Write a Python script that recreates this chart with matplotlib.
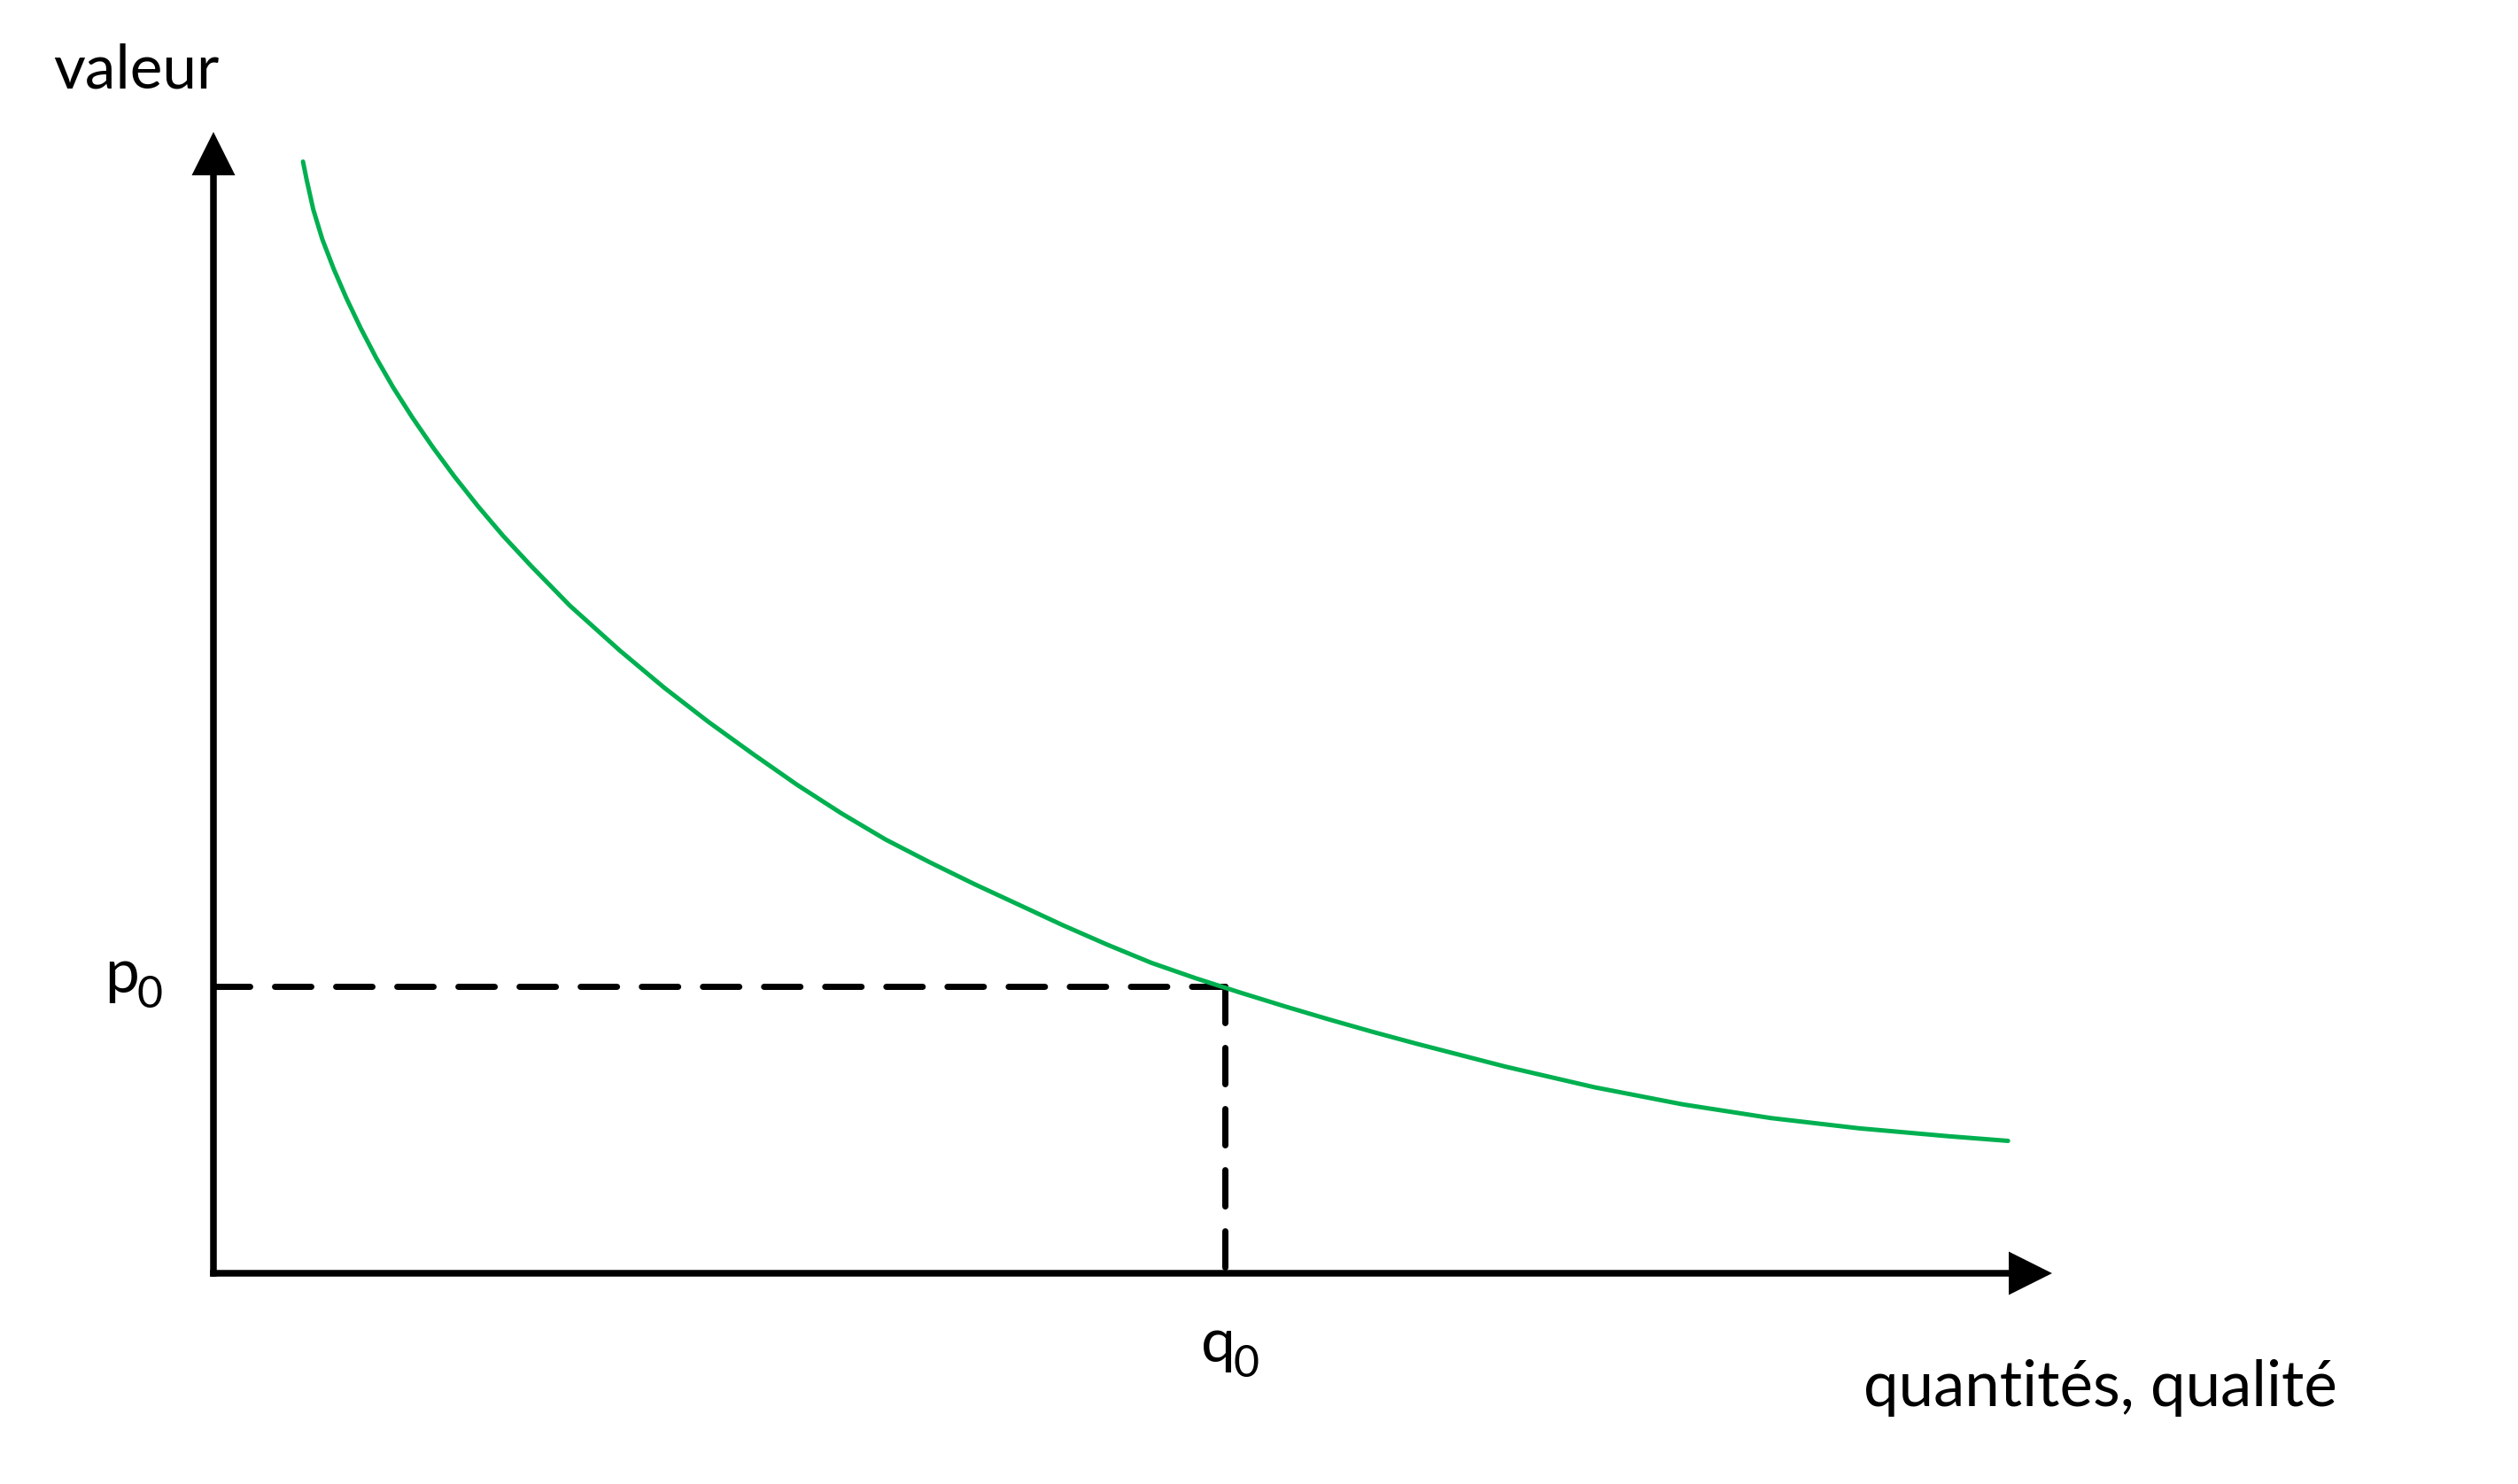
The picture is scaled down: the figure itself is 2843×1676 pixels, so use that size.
import matplotlib
matplotlib.use("Agg")
import matplotlib.pyplot as plt

# ---------------- data ----------------
curve_x = [4.87, 5.07, 5.43, 5.92, 6.54, 7.24, 8.01, 8.85, 9.78, 10.81, 11.92, 13.11,
           14.39, 15.76, 17.29, 19.38, 22.11, 24.52, 26.93, 29.34, 31.74, 34.15,
           36.56, 38.97, 41.38, 43.79, 46.19, 48.60, 51.01, 53.42, 55.83, 58.24,
           60.65, 63.05, 65.46, 70.28, 75.10, 79.90, 84.70, 89.50, 94.40, 97.60]
curve_y = [97.4, 95.8, 93.2, 90.6, 88.0, 85.4, 82.8, 80.2, 77.6, 75.0, 72.4, 69.8,
           67.2, 64.6, 61.95, 58.5, 54.55, 51.3, 48.3, 45.5, 42.8, 40.3,
           38.0, 36.0, 34.1, 32.3, 30.5, 28.8, 27.2, 25.85, 24.6, 23.4,
           22.25, 21.15, 20.1, 18.1, 16.3, 14.8, 13.6, 12.7, 12.0, 11.6]
q0 = 55.0
p0 = 25.1
x_max = 100.0
y_max = 100.0
y_label = "valeur"
x_label = "quantités, qualité"
p_label, q_label, sub_label = "p", "q", "0"

# ---------------- figure ----------------
W, H = 2843, 1676
fig = plt.figure(figsize=(W / 100, H / 100), dpi=100)
fig.patch.set_facecolor("white")
ox, oy, tipx, tipy = 241, 1438, 2317, 149
ax = fig.add_axes([ox / W, (H - oy) / H, (tipx - ox) / W, (oy - tipy) / H])
ax.set_xlim(0, x_max)
ax.set_ylim(0, y_max)
ax.axis("off")

sx = (tipx - ox) / x_max   # px per x unit
sy = (oy - tipy) / y_max   # px per y unit
t = 7.5                    # axis thickness in px
head = 49.0                # arrow head size in px

# axes with arrows
ax.arrow(-t / 2 / sx, 0, x_max + t / 2 / sx, 0, width=t / sy, head_width=head / sy,
         head_length=head / sx, length_includes_head=True, color="black", lw=0,
         clip_on=False, zorder=3)
ax.arrow(0, -t / 2 / sy, 0, y_max + t / 2 / sy, width=t / sx, head_width=head / sx,
         head_length=head / sy, length_includes_head=True, color="black", lw=0,
         clip_on=False, zorder=3)

# dashed guides
lw_d = 7 * 72 / 100
dash = (0, (29.5 / lw_d, 20.2 / lw_d))
ax.plot([0, q0], [p0, p0], color="black", lw=lw_d, linestyle=dash,
        dash_capstyle="round", clip_on=False, zorder=2)
ax.plot([q0, q0], [p0, 0], color="black", lw=lw_d, linestyle=dash,
        dash_capstyle="round", clip_on=False, zorder=2)

# curve
ax.plot(curve_x, curve_y, color="#00B050", lw=5 * 72 / 100,
        solid_capstyle="round", solid_joinstyle="round", clip_on=False, zorder=4)

# texts
FONT = ["Lato", "DejaVu Sans"]


def ftext(x, y, s, size):
    fig.text(x / W, 1 - y / H, s, fontsize=size, family=FONT, ha="left",
             va="baseline", color="black")


ftext(60, 100, y_label, 50)
ftext(2104, 1588, x_label, 51)
ftext(118, 1121, p_label, 50)
ftext(154, 1138, sub_label, 36)
ftext(1356, 1538, q_label, 50)
ftext(1393, 1555, sub_label, 36)

fig.savefig("out.png", dpi=100, facecolor="white")
